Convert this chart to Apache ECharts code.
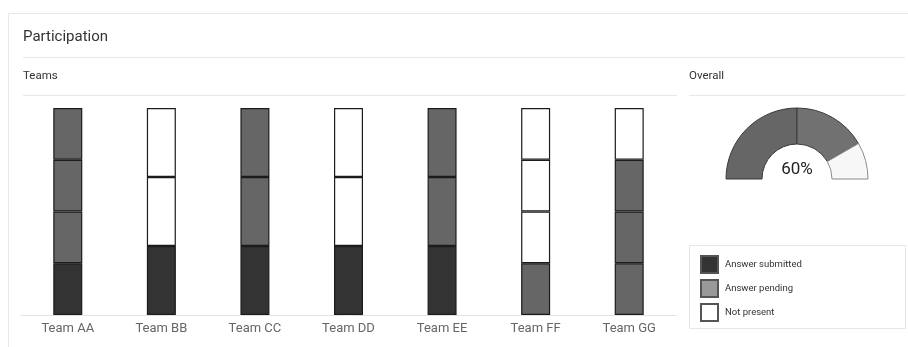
<!DOCTYPE html>
<html>
<head>
<meta charset="utf-8">
<script src="https://cdn.jsdelivr.net/npm/echarts@6/dist/echarts.min.js"></script>
<style>
  html, body { margin: 0; padding: 0; background: #fff; }
  #chart { width: 908px; height: 347px; }
</style>
</head>
<body>
<div id="chart"></div>
<script>
// Teams shown along the x axis
const teams = ['Team AA', 'Team BB', 'Team CC', 'Team DD', 'Team EE', 'Team FF', 'Team GG'];

// Status of each team member, listed from the bottom of the bar to the top
const teamMembers = [
  ['submitted', 'pending', 'pending', 'pending'],
  ['submitted', 'absent', 'absent'],
  ['submitted', 'pending', 'pending'],
  ['submitted', 'absent', 'absent'],
  ['submitted', 'pending', 'pending'],
  ['pending', 'absent', 'absent', 'absent'],
  ['pending', 'pending', 'pending', 'absent']
];

// Legend entries
const statusKeys = ['submitted', 'pending', 'absent'];
const statusNames = ['Answer submitted', 'Answer pending', 'Not present'];

// Overall gauge: segment weights and the headline figure
const overallSegments = [3, 2, 1];
const overallLabel = '60%';

const barFill = { submitted: '#333333', pending: '#666666', absent: '#ffffff' };
const legendFill = { submitted: '#333333', pending: '#999999', absent: '#ffffff' };

const maxMembers = Math.max(...teamMembers.map(m => m.length));

// One stacked series per member slot; each member takes an equal share of the bar
const slotSeries = [];
for (let s = 0; s < maxMembers; s++) {
  slotSeries.push({
    type: 'bar',
    name: 'slot' + s,
    stack: 'team',
    barWidth: 29,
    silent: true,
    data: teamMembers.map(members => {
      if (s >= members.length) return null;
      return {
        value: 100 / members.length,
        itemStyle: { color: barFill[members[s]], borderColor: '#1c1c1c', borderWidth: 1.2 }
      };
    })
  });
}

// Empty series that carry the legend swatches
const legendSeries = statusKeys.map((k, i) => ({
  type: 'bar',
  name: statusNames[i],
  stack: 'team',
  data: [],
  itemStyle: { color: legendFill[k], borderColor: '#555', borderWidth: 1 }
}));

const gaugeColors = ['#666666', '#717171', '#f7f7f7'];
const gaugeBorders = ['#3a3a3a', '#3a3a3a', '#8a8a8a'];
const total = overallSegments.reduce((a, b) => a + b, 0);
const pieData = overallSegments.map((v, i) => ({
  value: v,
  itemStyle: { color: gaugeColors[i], borderColor: gaugeBorders[i], borderWidth: 1 }
}));
pieData.push({ value: total, itemStyle: { color: 'rgba(0,0,0,0)', borderWidth: 0 } });

const font = 'Roboto, "Noto Sans", sans-serif';

const chart = echarts.init(document.getElementById('chart'), null, { renderer: 'canvas' });
chart.setOption({
  animation: false,
  textStyle: { fontFamily: font },
  grid: { left: 21, right: 232, top: 108, bottom: 32 },
  xAxis: {
    type: 'category',
    data: teams,
    axisLine: { lineStyle: { color: '#e2e2e2' } },
    axisTick: { alignWithLabel: true, length: 5, lineStyle: { color: '#e2e2e2' } },
    axisLabel: { color: '#666', fontSize: 13, margin: 7, fontFamily: font }
  },
  yAxis: { type: 'value', min: 0, max: 100, show: false },
  legend: {
    orient: 'vertical',
    left: 695,
    top: 250,
    itemWidth: 17,
    itemHeight: 17,
    itemGap: 5,
    icon: 'rect',
    selectedMode: false,
    textStyle: { fontSize: 9.5, color: '#333', padding: [0, 0, 0, 2], lineHeight: 17, fontFamily: font },
    data: statusNames
  },
  graphic: [
    { type: 'rect', shape: { x: 8.5, y: 13.5, width: 905, height: 340 }, style: { fill: 'none', stroke: '#e8e8e8', lineWidth: 1 }, silent: true },
    { type: 'text', left: 23, top: 30, style: { text: 'Participation', font: '15px ' + font, fill: '#333' } },
    { type: 'line', shape: { x1: 23, y1: 57.5, x2: 905, y2: 57.5 }, style: { stroke: '#e8e8e8', lineWidth: 1 } },
    { type: 'text', left: 23, top: 70, style: { text: 'Teams', font: '11.5px ' + font, fill: '#333' } },
    { type: 'text', left: 689, top: 70, style: { text: 'Overall', font: '11.5px ' + font, fill: '#333' } },
    { type: 'line', shape: { x1: 23, y1: 95.5, x2: 677, y2: 95.5 }, style: { stroke: '#e8e8e8', lineWidth: 1 } },
    { type: 'line', shape: { x1: 689, y1: 95.5, x2: 905, y2: 95.5 }, style: { stroke: '#e8e8e8', lineWidth: 1 } },
    { type: 'rect', shape: { x: 689.5, y: 245.5, width: 216, height: 83 }, style: { fill: 'none', stroke: '#e6e6e6', lineWidth: 1 }, silent: true },
    { type: 'text', x: 797, y: 170, style: { text: overallLabel, font: '17px ' + font, fill: '#222', textAlign: 'center', textVerticalAlign: 'middle' }, z: 10 }
  ],
  series: [
    ...slotSeries,
    ...legendSeries,
    {
      type: 'pie',
      silent: true,
      center: [797, 179],
      radius: [35, 71],
      startAngle: 180,
      clockwise: true,
      label: { show: false },
      labelLine: { show: false },
      data: pieData
    }
  ]
});
</script>
</body>
</html>
